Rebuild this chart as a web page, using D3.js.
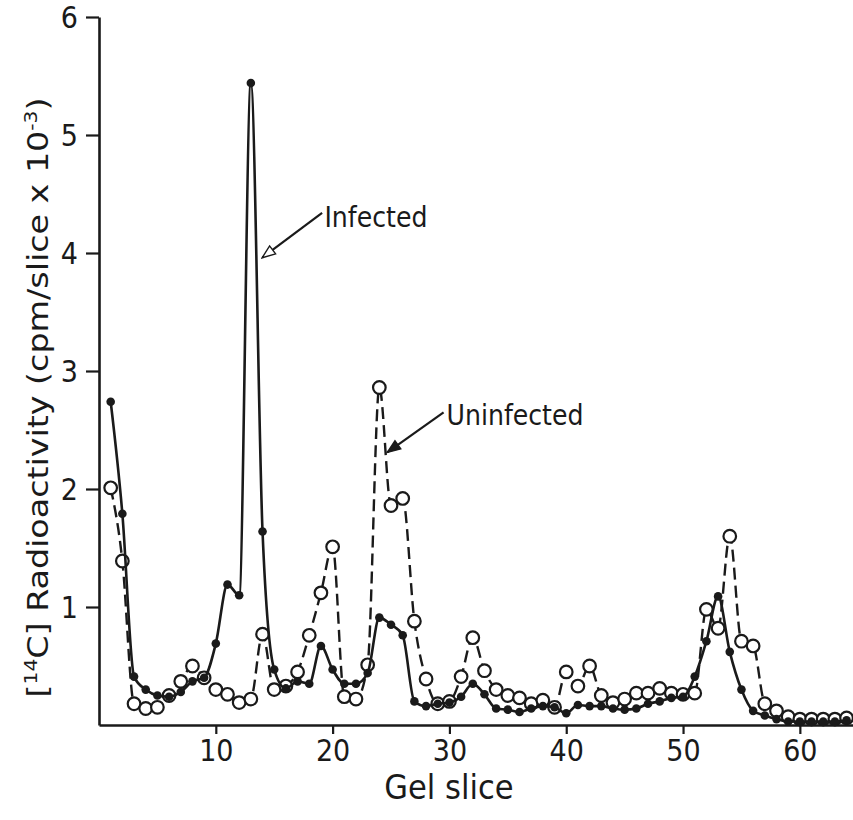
<!DOCTYPE html>
<html>
<head>
<meta charset="utf-8">
<script src="https://cdn.jsdelivr.net/npm/d3@7"></script>
<style>
  html, body { margin: 0; padding: 0; background: #fff; }
  svg { display: block; }
  text { font-family: "DejaVu Sans Condensed", "Liberation Sans", sans-serif; fill: #1a1a1a; }
</style>
</head>
<body>
<svg id="chart" width="853" height="820"></svg>
<script>
// ---- data ----
const slices = d3.range(1, 65);
const infected = [
  2.74, 1.79, 0.41, 0.30, 0.25, 0.24, 0.28, 0.37, 0.40, 0.69,
  1.19, 1.10, 5.44, 1.64, 0.47, 0.31, 0.37, 0.35, 0.67, 0.47,
  0.35, 0.35, 0.44, 0.91, 0.85, 0.76, 0.20, 0.16, 0.18, 0.19,
  0.24, 0.35, 0.26, 0.14, 0.13, 0.11, 0.14, 0.16, 0.15, 0.10,
  0.17, 0.16, 0.16, 0.14, 0.13, 0.14, 0.18, 0.20, 0.23, 0.24,
  0.41, 0.71, 1.09, 0.62, 0.30, 0.12, 0.08, 0.05, 0.03, 0.03,
  0.03, 0.03, 0.03, 0.04
];
const uninfected = [
  2.01, 1.39, 0.18, 0.14, 0.15, 0.25, 0.37, 0.50, 0.40, 0.30,
  0.26, 0.19, 0.22, 0.77, 0.30, 0.33, 0.45, 0.76, 1.12, 1.51,
  0.24, 0.22, 0.51, 2.86, 1.86, 1.92, 0.88, 0.39, 0.18, 0.20,
  0.41, 0.74, 0.46, 0.30, 0.25, 0.23, 0.18, 0.21, 0.15, 0.45,
  0.33, 0.50, 0.25, 0.19, 0.22, 0.27, 0.27, 0.31, 0.27, 0.26,
  0.27, 0.98, 0.82, 1.60, 0.71, 0.67, 0.18, 0.12, 0.07, 0.05,
  0.05, 0.05, 0.05, 0.06
];
const xTicks = [10, 20, 30, 40, 50, 60];
const yTicks = [1, 2, 3, 4, 5, 6];
const xTitle = "Gel slice";
const labels = [
  { text: "Infected", tip: [13.97, 3.96], tail: [19.1, 4.34], at: [19.3, 4.22], open: true },
  { text: "Uninfected", tip: [24.68, 2.31], tail: [29.5, 2.65], at: [29.75, 2.54], open: false }
];

// ---- chart ----
const svg = d3.select("#chart");
const ink = "#1a1a1a";
const x = d3.scaleLinear().domain([0, 64.55]).range([99, 853]);
const y = d3.scaleLinear().domain([0, 6]).range([725, 17]);

// axes
const gx = svg.append("g").attr("transform", `translate(0,${y(0)})`)
  .call(d3.axisBottom(x).tickValues(xTicks).tickFormat(d3.format("d"))
    .tickSizeInner(9).tickSizeOuter(0).tickPadding(4));
const gy = svg.append("g").attr("transform", `translate(${x(0)},0)`)
  .call(d3.axisLeft(y).tickValues(yTicks).tickFormat(d3.format("d"))
    .tickSizeInner(13).tickSizeOuter(0).tickPadding(8));
[gx, gy].forEach(g => {
  g.select(".domain").attr("stroke", ink).attr("stroke-width", 2.6);
  g.selectAll(".tick line").attr("stroke", ink).attr("stroke-width", 2.2);
  g.selectAll(".tick text").attr("font-size", 30).attr("fill", ink)
    .style("font-family", '"DejaVu Sans Condensed", "Liberation Sans", sans-serif');
});
gy.selectAll(".tick text").attr("dy", "0.36em");
gx.selectAll(".tick text").attr("dy", "0.75em");

// y-axis title
const yt = svg.append("text")
  .attr("transform", `translate(48,${(700 + 95) / 2}) rotate(-90)`)
  .attr("text-anchor", "middle")
  .attr("font-size", 28)
  .attr("textLength", 600)
  .attr("lengthAdjust", "spacingAndGlyphs");
yt.append("tspan").text("[");
yt.append("tspan").attr("font-size", 17).attr("dy", -11).text("14");
yt.append("tspan").attr("dy", 11).text("C] Radioactivity (cpm/slice x 10");
yt.append("tspan").attr("font-size", 17).attr("dy", -11).text("-3");
yt.append("tspan").attr("dy", 11).text(")");

// x-axis title
svg.append("text")
  .attr("x", 449).attr("y", 799)
  .attr("text-anchor", "middle")
  .attr("font-size", 34)
  .text(xTitle);

// series
const ptsU = slices.map((s, i) => [s, uninfected[i]]);
const ptsI = slices.map((s, i) => [s, infected[i]]);
const line = d3.line().x(d => x(d[0])).y(d => y(d[1])).curve(d3.curveMonotoneX);

svg.append("path").datum(ptsU)
  .attr("d", line).attr("fill", "none").attr("stroke", ink)
  .attr("stroke-width", 2.4).attr("stroke-dasharray", "12,6");

svg.append("g").selectAll("circle").data(ptsU).join("circle")
  .attr("cx", d => x(d[0])).attr("cy", d => y(d[1])).attr("r", 6.3)
  .attr("fill", "#fff").attr("stroke", ink).attr("stroke-width", 2.2);

svg.append("path").datum(ptsI)
  .attr("d", line).attr("fill", "none").attr("stroke", ink)
  .attr("stroke-width", 2.6);

svg.append("g").selectAll("circle").data(ptsI).join("circle")
  .attr("cx", d => x(d[0])).attr("cy", d => y(d[1])).attr("r", 4.3)
  .attr("fill", ink);

// annotations
labels.forEach(l => {
  const tx = x(l.tip[0]), ty = y(l.tip[1]);
  const sx = x(l.tail[0]), sy = y(l.tail[1]);
  const ang = Math.atan2(ty - sy, tx - sx);
  const hl = 13, hw = 5;
  const bx = tx - hl * Math.cos(ang), by = ty - hl * Math.sin(ang);
  const px = -Math.sin(ang) * hw, py = Math.cos(ang) * hw;
  svg.append("line")
    .attr("x1", sx).attr("y1", sy).attr("x2", l.open ? bx : tx).attr("y2", l.open ? by : ty)
    .attr("stroke", ink).attr("stroke-width", 2.2);
  svg.append("path")
    .attr("d", `M${tx},${ty}L${bx + px},${by + py}L${bx - px},${by - py}Z`)
    .attr("fill", l.open ? "#fff" : ink).attr("stroke", ink).attr("stroke-width", 1.4);
  svg.append("text")
    .attr("x", x(l.at[0])).attr("y", y(l.at[1]))
    .attr("font-size", 28)
    .text(l.text);
});
</script>
</body>
</html>
